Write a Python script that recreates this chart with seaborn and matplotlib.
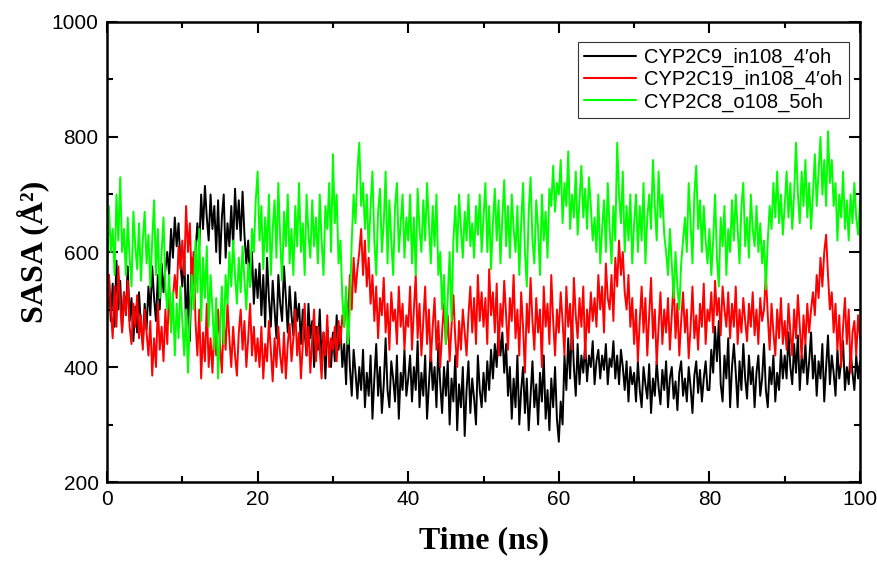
import numpy as np
import pandas as pd
import seaborn as sns
import matplotlib
matplotlib.use("Agg")
import matplotlib.pyplot as plt
from matplotlib.ticker import MultipleLocator

# ---- data (SASA in Å^2, sampled every 0.25 ns, 0..100 ns) ----
series_names = ["CYP2C9_in108_4\u2032oh", "CYP2C19_in108_4\u2032oh", "CYP2C8_o108_5oh"]
series_colors = ["#000000", "#ff0000", "#00ff00"]

cyp2c9 = [
    # 0-10 ns
    500, 560, 480, 545, 470, 585, 500, 550, 465, 530, 490, 575,
    480, 520, 445, 505, 460, 530, 470, 440, 510, 465,
    540, 490, 575, 520, 480, 560, 500, 580, 530, 570,
    600, 560, 640, 590, 660, 610, 650, 580,
    # 10-20
    540, 600, 460, 560, 445, 590, 520, 600,
    650, 610, 700, 640, 715, 660, 620, 700, 640, 680,
    600, 690, 580, 660, 700, 590, 650, 610,
    680, 610, 710, 640, 690, 620, 705, 630,
    580, 620, 540, 600, 510, 570,
    # 20-30
    520, 580, 490, 560, 470, 590, 520,
    470, 550, 500, 450, 560, 510, 480, 575, 520, 460, 540, 490, 455, 530, 480, 510,
    440, 500, 460, 420, 510, 450, 480, 400, 470, 430, 500, 410, 460, 380, 470, 430, 400,
    # 30-40
    460, 410, 490, 430, 470, 400,
    440, 370, 480, 400, 350, 430, 390, 345,
    400, 360, 430, 330, 390, 350, 420, 310, 380, 440, 350, 400, 320, 370, 450, 360,
    330, 410, 380, 340, 420, 310, 390, 360, 430, 350,
    # 40-50
    380, 420, 340, 400, 360, 445, 330, 390, 350, 420, 310, 370, 430, 360, 400, 330,
    440, 370, 320, 400, 350, 410,
    300, 380, 340, 420, 290, 370, 330, 400, 280, 360, 410, 320, 380, 345, 300, 420, 360, 330,
    # 50-60
    390, 340, 410, 360, 430, 380,
    440, 400, 470, 420, 460, 390, 440,
    350, 400, 310, 380, 330, 420, 300, 360, 400, 320, 380, 290, 350, 410, 330, 370,
    300, 390, 340, 420, 310, 360, 290, 380, 330, 400, 310,
    # 60-70
    270, 340, 300, 420, 360, 450, 380, 480, 400, 350, 440, 370, 420,
    390, 440, 375, 420, 400, 445, 370, 410, 430, 380, 420, 395, 440, 370, 415, 400,
    445, 380, 420, 370, 430, 400,
    360, 410, 340, 400, 370,
    # 70-80
    390, 340, 410, 360, 330, 400, 370, 345, 405, 320, 380, 350, 410, 365, 335, 395,
    360, 410, 330, 380, 400, 345, 375, 325, 390, 410, 350, 380, 340, 400, 365, 320,
    385, 410, 355, 395, 340, 380, 410, 360,
    # 80-90
    360, 430, 390, 470, 410, 480, 370, 340, 420, 380, 450, 330, 400, 440,
    390, 330, 410, 360, 440, 380, 345, 420, 370, 400, 330, 390, 420, 350, 380, 440,
    360, 330, 400, 370, 420, 340, 390, 360, 430, 380,
    # 90-100
    420, 380, 460, 400, 370, 440, 390, 455, 360, 420, 390, 440, 370, 410, 460, 380, 420,
    350, 410, 380, 440, 340, 400, 455, 370, 420, 390, 350, 430, 380, 410, 445, 360,
    400, 370, 430, 390, 360, 420, 380,
    410,
]

cyp2c19 = [
    # 0-10
    480, 560, 500, 450, 540, 470, 575, 510, 460, 530, 490, 550, 470,
    440, 510, 470, 525, 450, 490, 430, 500, 460,
    420, 480, 385, 450, 400, 510, 430, 470, 410,
    500, 440, 540, 470, 520,
    560, 520, 610, 570,
    # 10-20
    620, 560, 680, 600, 650, 540, 600,
    480, 420, 500, 380, 460, 410, 510, 400, 450, 390,
    470, 420, 500, 440, 390, 480, 430, 510, 450, 400, 470, 420, 385, 460, 500, 430,
    480, 400, 450, 510, 420, 470, 410,
    # 20-30
    450, 400, 470, 380, 440, 410, 480, 430, 375, 450, 400, 470, 420, 390, 460, 380,
    440, 475, 410,
    450, 500, 420, 460, 380, 440, 510, 420, 470, 390, 450, 500, 410, 470, 430, 380,
    460, 420, 490, 400, 450,
    # 30-40
    430, 470, 410, 480, 440, 490,
    470, 520, 480, 560, 500, 590, 530, 570,
    600, 640, 560, 620, 540, 590,
    510, 560, 480, 540, 450, 520, 490, 555, 460, 510, 430, 530, 480, 500, 440, 540,
    470, 510, 430, 490,
    # 40-50
    470, 540, 430, 500, 560, 450, 510, 420, 480, 540, 440, 500, 410, 470,
    520, 430, 480, 400, 460, 510, 440, 490, 410, 470, 525, 450, 400, 480, 430, 500,
    460, 420,
    490, 540, 460, 520, 440, 560, 480, 530,
    # 50-60
    470, 520, 440, 570, 490, 530, 460, 545, 420, 510, 470, 550, 490, 430, 520, 480,
    560, 450,
    500, 420, 530, 470, 390, 510, 460, 555, 480, 430, 520, 460, 500, 400, 540, 470,
    510, 440, 560, 480, 420, 500,
    # 60-70
    460, 530, 480, 420, 540, 470, 510, 430, 555, 490, 450, 520, 470, 540, 415, 500,
    460, 530, 480,
    520, 470, 560, 500, 540, 460, 580, 520, 500, 560, 480, 590, 540, 620, 560, 600,
    530, 500, 560, 470, 520,
    # 70-80
    440, 500, 410, 480, 540, 460, 520, 420, 490, 555, 450, 500, 405, 470, 530, 440, 500,
    460, 520, 430, 490, 550, 450, 510, 420, 480, 530, 460, 500, 415, 470, 540, 450,
    490, 430, 510, 470, 545, 440, 500,
    # 80-90
    480, 530, 460, 550, 490, 520, 455, 540, 500, 470, 530, 450, 510,
    470, 540, 440, 500, 460, 520, 480, 445, 510, 470, 530, 455, 500, 440, 520, 480,
    500, 560,
    490, 430, 510, 460, 420, 500, 450, 520, 440,
    # 90-100
    480, 430, 510, 460, 420, 500, 450, 525, 470, 415, 490, 440, 510, 460, 500, 530,
    490, 560, 520, 590, 540, 600, 630,
    560, 500, 530, 460, 510, 430, 490, 400, 470, 520, 440, 500, 390, 460, 480, 420, 490,
    450,
]

cyp2c8 = [
    # 0-10
    560, 680, 600, 640, 560, 700, 620, 730, 600,
    640, 560, 660, 590, 540, 670, 610, 570, 650, 550, 620, 670, 580, 630,
    540, 620, 690, 560, 640, 520, 600, 660, 540,
    500, 560, 460, 530, 420, 510, 450, 540,
    # 10-20
    480, 420, 500, 390,
    480, 560, 500, 620, 530, 640, 480, 590, 520, 610, 470, 560,
    500, 430, 520, 380, 460, 540, 440,
    560, 510, 600, 540, 620, 560, 510, 590, 530, 610, 550,
    500, 580, 540, 640, 600, 690,
    # 20-30
    740, 620, 680, 570,
    660, 600, 700, 560, 640, 690, 590, 720, 620, 550, 670, 610, 700, 580,
    640, 560, 680, 610, 720, 600, 650, 560, 700, 630, 590, 690, 610, 660,
    580, 700, 620, 560, 680, 640, 720, 600,
    # 30-40
    770, 650, 700, 580, 620, 520,
    470, 540, 440, 500,
    620, 700, 650, 740, 790, 680, 720, 640,
    700, 600, 680, 740, 620, 560, 670, 710, 600, 650, 740, 580, 690, 620, 560, 680,
    720, 600, 650, 700, 590, 660,
    # 40-50
    620, 700, 580, 660, 560, 710, 640,
    600, 690, 620, 720, 650, 580, 680, 610, 700,
    560, 600, 500, 560, 440, 520, 600, 480,
    620, 680, 600, 700, 640, 590, 670, 620, 700, 610, 650, 590, 680, 630, 700, 600,
    # 50-60
    660, 720, 600, 680, 570, 650, 710, 620, 690, 580, 660, 725, 610, 680, 590, 700,
    640, 600,
    680, 560, 650, 720, 600, 540, 670, 730, 620, 580, 690, 640, 560, 700, 620, 670,
    590, 710,
    680, 750, 670, 720,
    # 60-70
    700, 760, 650, 720, 680, 775, 640, 700, 660, 740, 630, 690, 750, 660, 710, 640,
    730, 680, 620,
    660, 600, 700, 580, 640, 690, 600, 720, 640, 580, 680, 620,
    790, 700,
    650, 740, 600, 680, 620, 700, 580,
    # 70-80
    650, 700, 600, 680, 620, 720, 580, 660,
    700, 640, 760, 680, 620, 740, 660, 700, 630,
    600, 560, 640, 580, 520, 600, 540, 500, 580, 620,
    660, 600, 720, 650, 580, 700, 750, 640, 690, 600, 680, 620, 580,
    # 80-90
    640, 560, 620, 700, 590, 540, 660, 610, 680, 560, 640, 600, 690,
    620, 700, 640, 580, 680, 720, 610, 660, 590, 700, 640, 610, 680, 600, 650, 580,
    620,
    535,
    620, 680, 640, 720, 660, 740, 650, 700, 630,
    # 90-100
    680, 740, 660, 720, 640, 700,
    790,
    700, 650, 740, 680, 760, 660, 720, 640, 700, 770, 680, 740, 800, 700, 760, 680,
    810, 720, 760,
    680, 720, 620, 700, 660, 740, 640, 690, 620, 700, 650, 720, 660, 630,
    690,
]

x_ticks = [0, 20, 40, 60, 80, 100]
y_ticks = [200, 400, 600, 800, 1000]

# ---- long-form table ----
frames = []
for name, vals in zip(series_names, [cyp2c9, cyp2c19, cyp2c8]):
    t = np.linspace(0, 100, len(vals))
    frames.append(pd.DataFrame({"Time": t, "SASA": vals, "series": name}))
df = pd.concat(frames, ignore_index=True)

sns.set_style("ticks")
plt.rcParams["font.family"] = ["Liberation Sans", "DejaVu Sans"]
for k in ["text.color", "axes.labelcolor", "xtick.color", "ytick.color", "axes.edgecolor"]:
    plt.rcParams[k] = "black"

fig = plt.figure(figsize=(8.78, 5.62), dpi=100)
ax = fig.add_axes([0.1219, 0.1423, 0.8576, 0.8186])

sns.lineplot(data=df, x="Time", y="SASA", hue="series", hue_order=series_names,
             palette=dict(zip(series_names, series_colors)), linewidth=1.4,
             estimator=None, sort=False, ax=ax)

ax.set_xlim(0, 100)
ax.set_ylim(200, 1000)
ax.set_xticks(x_ticks)
ax.set_yticks(y_ticks)
ax.xaxis.set_minor_locator(MultipleLocator(10))
ax.yaxis.set_minor_locator(MultipleLocator(100))
ax.tick_params(which="both", direction="in", top=True, right=True, width=1.5, colors="black",
               labelsize=15, pad=6)
ax.tick_params(which="major", length=8)
ax.tick_params(which="minor", length=4)
for sp in ax.spines.values():
    sp.set_linewidth(1.8)
    sp.set_color("black")

serif = ["Liberation Serif", "DejaVu Serif"]
ax.set_xlabel("Time (ns)", fontsize=23, fontweight="bold", family=serif, labelpad=12)
ax.set_ylabel("SASA (Å²)", fontsize=23, fontweight="bold", family=serif, labelpad=2)

leg = ax.legend(loc="upper right", bbox_to_anchor=(0.985, 0.957), fontsize=14.5, frameon=True,
                fancybox=False, edgecolor="black", handlelength=2.6, handletextpad=0.4,
                labelspacing=0.15, borderpad=0.3, borderaxespad=0)
leg.get_frame().set_linewidth(0.8)
for line in leg.get_lines():
    line.set_linewidth(1.5)

fig.savefig("out.png", dpi=100)
